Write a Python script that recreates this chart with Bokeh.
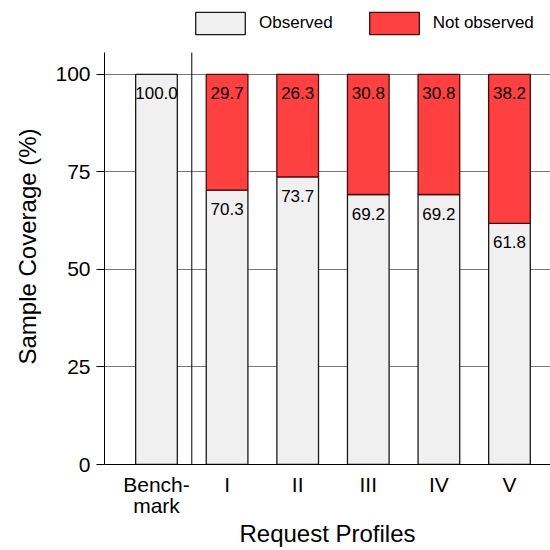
from bokeh.plotting import figure
from bokeh.models import ColumnDataSource, Range1d, FixedTicker, Legend, LegendItem, Title
from bokeh.core.properties import value
from bokeh.embed import file_html
from bokeh.resources import INLINE

# ---- data ----
categories = ["Bench-\nmark", "I", "II", "III", "IV", "V"]
observed = [100.0, 70.3, 73.7, 69.2, 69.2, 61.8]
not_observed = [0.0, 29.7, 26.3, 30.8, 30.8, 38.2]
y_ticks = [0, 25, 50, 75, 100]

FONT = "Liberation Sans"
OBS_FILL = "#f0f0f0"
RED_FILL = "#ff4040"
AXIS_TOP = 105.6   # where the y axis line stops

xs = list(range(len(categories)))

p = figure(width=550, height=550, output_backend="svg", toolbar_location=None,
           x_range=Range1d(-0.7365, 5.581), y_range=Range1d(0, 117.9),
           min_border_left=104, min_border_right=0, min_border_top=4, min_border_bottom=83)
p.outline_line_color = None
p.background_fill_color = "white"

# grid
p.xgrid.grid_line_color = None
p.ygrid.ticker = FixedTicker(ticks=y_ticks)
p.ygrid.grid_line_color = "#777777"
p.ygrid.grid_line_width = 1

# separator between benchmark and profiles
p.segment(x0=[0.5], y0=[0], x1=[0.5], y1=[AXIS_TOP], line_color="black", line_width=1)

# observed bars
obs_src = ColumnDataSource(dict(x=xs, top=observed, bottom=[0]*len(xs),
                                label=[f"{v:.1f}" for v in observed]))
r_obs = p.vbar(x="x", top="top", bottom="bottom", width=0.59, source=obs_src,
               fill_color=OBS_FILL, line_color="#1a1a1a", line_width=1.3)

# not observed bars (only where present)
idx = [i for i in xs if not_observed[i] > 0]
red_src = ColumnDataSource(dict(x=idx,
                                bottom=[observed[i] for i in idx],
                                top=[observed[i] + not_observed[i] for i in idx],
                                label=[f"{not_observed[i]:.1f}" for i in idx]))
r_red = p.vbar(x="x", top="top", bottom="bottom", width=0.59, source=red_src,
               fill_color=RED_FILL, line_color="#4a0a0a", line_width=1.3)

# value labels just below each segment's top
for src in (obs_src, red_src):
    p.text(x="x", y="top", text="label", source=src, text_align="center",
           text_baseline="alphabetic", y_offset=19, text_font=value(FONT),
           text_font_size="17px", text_color="black")

# axes
p.xaxis.ticker = FixedTicker(ticks=xs)
p.xaxis.major_label_overrides = {i: c for i, c in zip(xs, categories)}
p.xaxis.major_tick_out = 0
p.xaxis.major_tick_in = 0
p.xaxis.minor_tick_line_color = None
p.xaxis.axis_line_color = "black"
p.xaxis.major_label_text_font = FONT
p.xaxis.major_label_text_font_size = "21px"
p.xaxis.major_label_text_color = "black"
p.xaxis.major_label_text_line_height = 0.95
p.xaxis.major_label_standoff = 8
p.xaxis.axis_label = "Request Profiles"
p.xaxis.axis_label_text_font = FONT
p.xaxis.axis_label_text_font_size = "24px"
p.xaxis.axis_label_text_font_style = "normal"
p.xaxis.axis_label_text_color = "black"
p.xaxis.axis_label_standoff = 0

p.yaxis.ticker = FixedTicker(ticks=y_ticks)
p.yaxis.bounds = (0, AXIS_TOP)
p.yaxis.major_tick_out = 8
p.yaxis.major_tick_in = 0
p.yaxis.minor_tick_line_color = None
p.yaxis.axis_line_color = "black"
p.yaxis.major_tick_line_color = "black"
p.yaxis.major_label_text_font = FONT
p.yaxis.major_label_text_font_size = "21px"
p.yaxis.major_label_text_color = "black"
p.yaxis.major_label_standoff = 6

# y axis title, centred on the axis line rather than the whole frame
ytitle = Title(text="Sample Coverage (%)", align="left", offset=100,
               vertical_align="top", standoff=20,
               text_font=FONT, text_font_size="24px", text_font_style="normal",
               text_color="black")
p.add_layout(ytitle, "left")

legend = Legend(items=[LegendItem(label="Observed", renderers=[r_obs]),
                       LegendItem(label="Not observed", renderers=[r_red])],
                orientation="horizontal", location=(85, 427),
                padding=0, margin=0, spacing=30, label_standoff=8,
                glyph_width=62, glyph_height=28,
                label_text_font=FONT, label_text_font_size="17px",
                label_text_color="black",
                border_line_color=None, background_fill_alpha=0)
p.add_layout(legend, "center")

open("out.html", "w").write(file_html(p, INLINE))
